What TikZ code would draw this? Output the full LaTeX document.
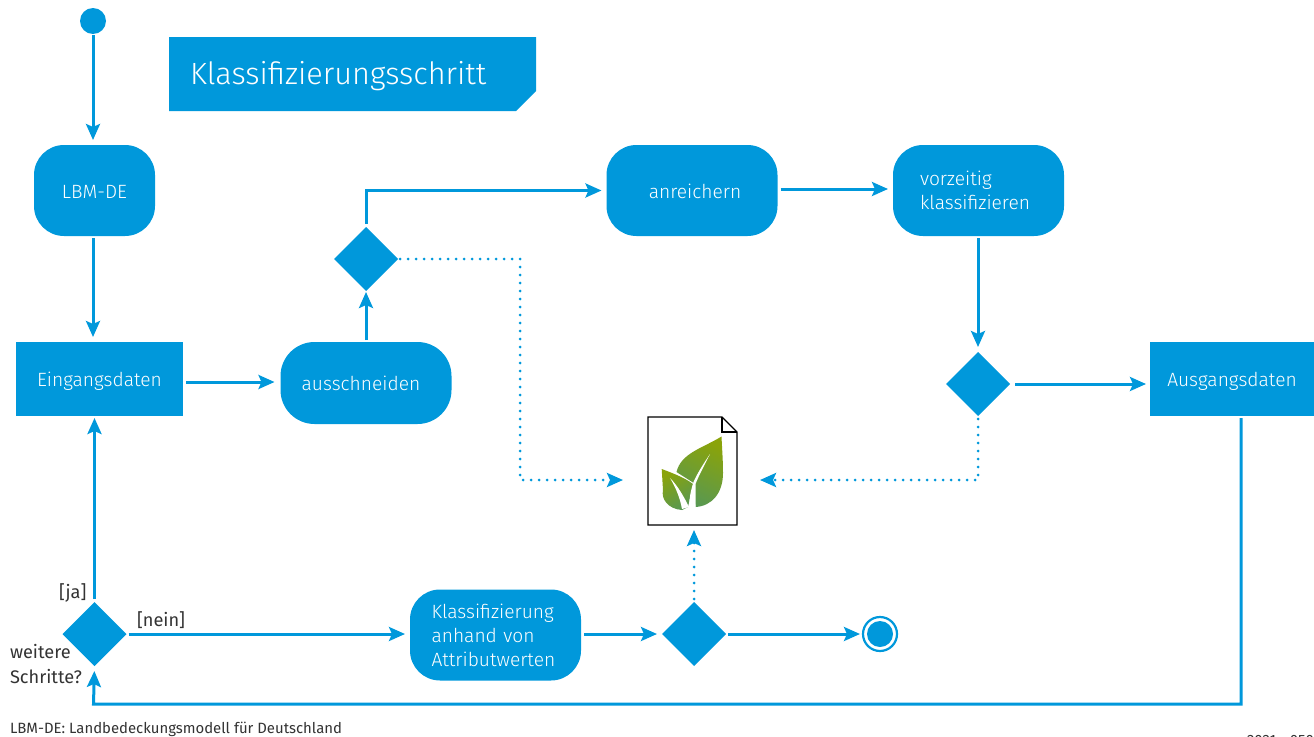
\documentclass[tikz,border=0pt]{standalone}
\usepackage{fontspec}
\setmainfont{Fira Sans Light}
\newfontfamily\capfont{Fira Sans}
\usepackage{xcolor}
\usepackage{tikz}
\usetikzlibrary{arrows.meta}
\usetikzlibrary{shapes.geometric}
\definecolor{umwblue}{RGB}{0,152,219}
\definecolor{captiongray}{RGB}{51,51,51}
\definecolor{leafolive}{RGB}{138,163,10}
\definecolor{leafgreen}{RGB}{88,152,82}
\tikzset{
  every node/.style={outer sep=0pt,inner sep=0pt,font=\fontsize{19.2}{24}\selectfont},
  actbox/.style={fill=umwblue,text=white,rounded corners=30pt,minimum width=171pt,minimum height=91pt,text height=15.5pt,text depth=0pt},
  listbox/.style={actbox,text height=,text depth=,align=left},
  databox/.style={fill=umwblue,text=white,minimum height=74pt,text height=15pt,text depth=0pt},
  decbox/.style={diamond,fill=umwblue,minimum width=64pt,minimum height=64pt},
  caption/.style={text=captiongray,font=\capfont\fontsize{18.2}{25}\selectfont},
  flow/.style={line width=3pt,color=umwblue,-{Stealth[length=16pt,width=14pt,inset=3pt]}},
  dotflow/.style={flow,line cap=round,dash pattern=on 0pt off 8pt}
}

\begin{document}
\begin{tikzpicture}[x=1pt,y=-1pt]
  \useasboundingbox (0,0) rectangle (1314,736);
  % title
  \fill[umwblue] (169,37) -- (536,37) -- (536,91) -- (516,111) -- (169,111) -- cycle;
  \node[anchor=base west,text=white,font=\fontsize{30.7}{36}\selectfont] (title) at (190,84) {Klassifizierungsschritt};
  % start and end
  \node[circle,fill=umwblue,minimum size=26pt] (start) at (93,21) {};
  \node[circle,fill=umwblue,minimum size=26pt] (stop) at (880,634) {};
  \node[circle,draw=umwblue,line width=2.2pt,minimum size=34pt] (stopring) at (880,634) {};
  % activities
  \node[actbox,minimum width=121pt] (lbm) at (94.5,190.5) {LBM-DE};
  \node[databox,minimum width=167pt] (input) at (99.5,379) {Eingangsdaten};
  \node[actbox,minimum height=82pt,rounded corners=34pt] (cut) at (366,383) {\kern-10pt ausschneiden};
  \node[actbox] (enrich) at (692,190.5) {\kern6pt anreichern};
  \node[listbox,text width=117pt,inner xsep=27pt] (early) at (978.5,190.5) {vorzeitig\\klassifizieren};
  \node[databox,minimum width=164pt] (output) at (1232,379) {Ausgangsdaten};
  \node[listbox,minimum width=171pt,text width=128pt,inner xsep=21.5pt] (attr) at (495.5,635) {Klassifizierung\\anhand von\\Attributwerten};
  % decisions
  \node[decbox] (deccut) at (366,259) {};
  \node[decbox] (decearly) at (978,384) {};
  \node[decbox] (decmore) at (94.5,634) {};
  \node[decbox] (decattr) at (694,634) {};
  % document with leaf
  \node[minimum width=89pt,minimum height=108pt] (doc) at (692.5,471) {};
  \draw[line width=1.2pt,fill=white] (doc.north west) -- ([xshift=-15pt]doc.north east) -- ([yshift=-15pt]doc.north east) -- (doc.south east) -- (doc.south west) -- cycle;
  \draw[line width=1.2pt] ([xshift=-15pt]doc.north east) -- ([xshift=-15pt,yshift=-15pt]doc.north east) -- ([yshift=-15pt]doc.north east);
  \shade[top color=leafolive,bottom color=leafgreen,shading angle=-25] (721.5,436.5) .. controls (703,448) and (681,453) .. (676.5,472) -- (693,482.5) -- (695.5,507) .. controls (712,506) and (723,493) .. (723,473) .. controls (723,460) and (722,448) .. (721.5,436.5) -- cycle;
  \shade[left color=leafolive,right color=leafgreen,shading angle=30] (661.7,469) .. controls (675,474) and (685,478) .. (693,484) -- (688,507) -- (682,510) .. controls (668,509) and (661,499) .. (663,490) -- cycle;
  \fill[white] (710,454) .. controls (704,466) and (699,475) .. (695.5,484) -- (695.5,507) -- (689.5,507) .. controls (689,498) and (691,490) .. (693.5,482) .. controls (698,472) and (704,463) .. (710,454) -- cycle;
  \fill[white] (670,478) .. controls (678,486) and (684,497) .. (689,507) -- (682,509) .. controls (680,498) and (676,488) .. (670,478) -- cycle;
  % connectors
  \draw[flow,shorten <=1pt,shorten >=5pt] (start) -- (start |- lbm.north);
  \draw[flow,shorten <=2pt,shorten >=5pt] (lbm.south -| start) -- (input.north -| start);
  \draw[flow,shorten <=3pt,shorten >=6pt] (input.east |- 0,382) -- (cut.west |- 0,382);
  \draw[flow,shorten <=2pt,shorten >=1pt] (cut.north) -- (deccut.south);
  \draw[flow,shorten <=3pt,shorten >=5pt] (deccut.north) |- (enrich.west);
  \draw[flow,shorten <=3pt,shorten >=5pt] (enrich.east |- 0,189) -- (early.west |- 0,189);
  \draw[flow,shorten <=2pt,shorten >=5pt] (early.south -| decearly) -- (decearly.north);
  \draw[flow,shorten <=5pt,shorten >=4pt] (decearly.east) -- (output.west |- decearly);
  \draw[flow,shorten <=2pt,shorten >=5pt] ([xshift=9pt]output.south) |- (93.5,704) -- (decmore.south);
  \draw[flow,shorten <=3pt,shorten >=2pt] (decmore.north) -- (decmore.north |- input.south);
  \draw[flow,shorten <=2pt,shorten >=5pt] (decmore.east) -- (attr.west |- decmore);
  \draw[flow,shorten <=3pt,shorten >=5pt] (attr.east |- decattr) -- (decattr.west);
  \draw[flow,shorten <=2pt,shorten >=3pt] (decattr.east) -- (stopring.west);
  \draw[dotflow,shorten <=2pt,shorten >=25pt] (deccut.east) -| (520,480) -- ([yshift=-9pt]doc.west);
  \draw[dotflow,shorten <=3pt,shorten >=23pt] (decearly.south) |- ([yshift=-9pt]doc.east);
  \draw[dotflow,shorten <=3pt,shorten >=5pt] (decattr.north) -- (decattr.north |- doc.south);
  % captions
  \node[caption,anchor=east] (yes) at (86.5,593) {[ja]};
  \node[caption,anchor=west] (no) at (137,620) {[nein]};
  \node[caption,anchor=west,align=left] (more) at (10,664.5) {weitere\\Schritte?};
  \node[caption,anchor=west,font=\capfont\fontsize{14.9}{18}\selectfont] (legend) at (10,729) {LBM-DE: Landbedeckungsmodell für Deutschland};
  \node[caption,anchor=west,font=\capfont\fontsize{14.9}{18}\selectfont] (refno) at (1247,741) {2021 - 0504};
\end{tikzpicture}
\end{document}
